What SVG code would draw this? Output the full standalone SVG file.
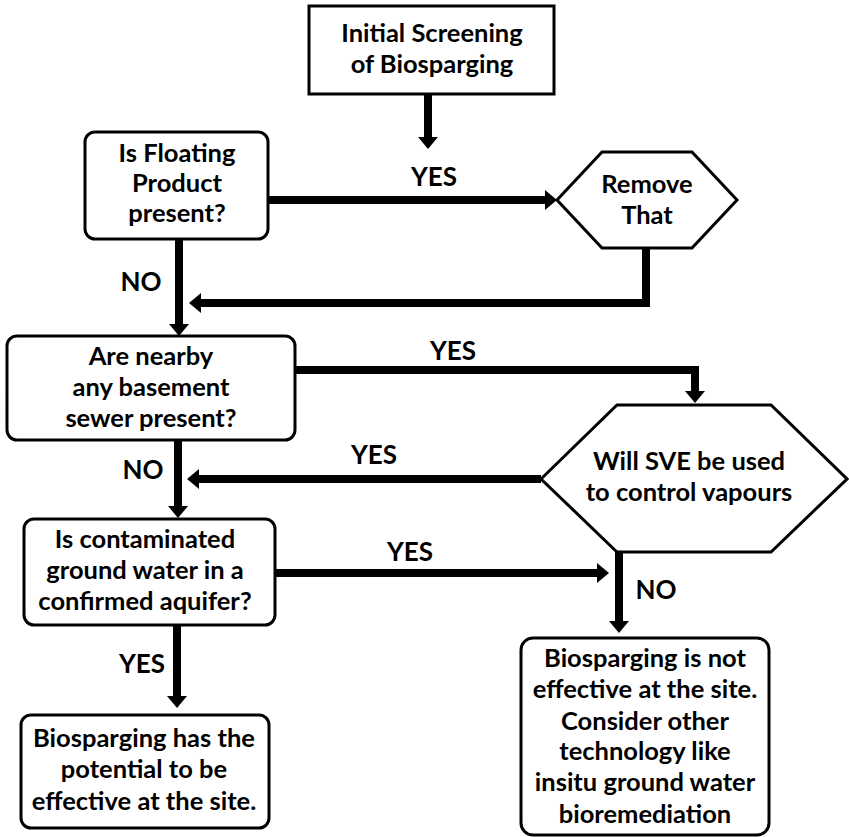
<svg xmlns="http://www.w3.org/2000/svg" width="849" height="837" viewBox="0 0 849 837">
  <style>
    .box { fill: #ffffff; stroke: #000000; stroke-width: 3; }
    .txt { font-family: Lato, "Open Sans", "Liberation Sans", sans-serif; font-weight: 700; font-size: 25.5px; fill: #000000; text-anchor: middle; }
    .lbl { font-family: Lato, "Open Sans", "Liberation Sans", sans-serif; font-weight: 700; font-size: 26px; fill: #000000; text-anchor: middle; }
    .edge { fill: none; stroke: #000000; stroke-width: 8; stroke-linejoin: miter; marker-end: url(#head); }
  </style>
  <defs>
    <marker id="head" viewBox="0 0 12 20" markerWidth="12" markerHeight="20" refX="6" refY="10" orient="auto" markerUnits="userSpaceOnUse">
      <path d="M0,0 L12,10 L0,20 Z" fill="#000000"/>
    </marker>
  </defs>

  <rect width="849" height="837" fill="#ffffff"/>

  <g id="connectors">
    <!-- start to floating product check -->
    <polyline class="edge" points="428,94 428,143"/>
    <!-- floating product YES to remove -->
    <polyline class="edge" points="268,200 551,200"/>
    <!-- remove back to main line -->
    <polyline class="edge" points="646,248 646,303 195,303"/>
    <!-- floating product NO down -->
    <polyline class="edge" points="179,239 179,330"/>
    <!-- basement YES to SVE decision -->
    <polyline class="edge" points="295,370 695,370 695,397"/>
    <!-- SVE YES back to main line -->
    <polyline class="edge" points="541,479 193,479"/>
    <!-- basement NO down -->
    <polyline class="edge" points="178,440 178,512"/>
    <!-- aquifer YES to SVE NO line -->
    <polyline class="edge" points="275,573 603,573"/>
    <!-- SVE NO down -->
    <polyline class="edge" points="619,552 619,627"/>
    <!-- aquifer YES down -->
    <polyline class="edge" points="177,625 177,702"/>

    <text class="lbl" x="434" y="186">YES</text>
    <text class="lbl" x="141" y="291">NO</text>
    <text class="lbl" x="453" y="360">YES</text>
    <text class="lbl" x="374" y="464">YES</text>
    <text class="lbl" x="143" y="479">NO</text>
    <text class="lbl" x="410" y="561">YES</text>
    <text class="lbl" x="656" y="599">NO</text>
    <text class="lbl" x="142" y="673">YES</text>
  </g>

  <g id="start">
    <rect class="box" x="309" y="6" width="245" height="88"/>
    <text class="txt" x="432" y="42">Initial Screening</text>
    <text class="txt" x="432" y="73">of Biosparging</text>
  </g>

  <g id="floating">
    <rect class="box" x="85" y="132" width="183" height="107" rx="10"/>
    <text class="txt" x="177" y="162">Is Floating</text>
    <text class="txt" x="177" y="192">Product</text>
    <text class="txt" x="177" y="222">present?</text>
  </g>

  <g id="remove">
    <polygon class="box" points="557,200 602,152 692,152 737,200 692,248 602,248"/>
    <text class="txt" x="647" y="193">Remove</text>
    <text class="txt" x="647" y="224">That</text>
  </g>

  <g id="basement">
    <rect class="box" x="7" y="336" width="288" height="104" rx="10"/>
    <text class="txt" x="151" y="365">Are nearby</text>
    <text class="txt" x="151" y="396">any basement</text>
    <text class="txt" x="151" y="427">sewer present?</text>
  </g>

  <g id="sve">
    <polygon class="box" points="541,479 617,405 771,405 847,479 771,552 617,552"/>
    <text class="txt" x="689" y="470">Will SVE be used</text>
    <text class="txt" x="689" y="501">to control vapours</text>
  </g>

  <g id="aquifer">
    <rect class="box" x="24" y="519" width="251" height="106" rx="10"/>
    <text class="txt" x="145" y="548">Is contaminated</text>
    <text class="txt" x="145" y="579">ground water in a</text>
    <text class="txt" x="145" y="610">confirmed aquifer?</text>
  </g>

  <g id="effective">
    <rect class="box" x="21" y="715" width="248" height="113" rx="10"/>
    <text class="txt" x="144" y="747">Biosparging has the</text>
    <text class="txt" x="144" y="778">potential to be</text>
    <text class="txt" x="144" y="810">effective at the site.</text>
  </g>

  <g id="not-effective">
    <rect class="box" x="521" y="638" width="248" height="197" rx="12"/>
    <text class="txt" x="645" y="667">Biosparging is not</text>
    <text class="txt" x="645" y="698">effective at the site.</text>
    <text class="txt" x="645" y="730">Consider other</text>
    <text class="txt" x="645" y="760">technology like</text>
    <text class="txt" x="645" y="791">insitu ground water</text>
    <text class="txt" x="645" y="823">bioremediation</text>
  </g>
</svg>
